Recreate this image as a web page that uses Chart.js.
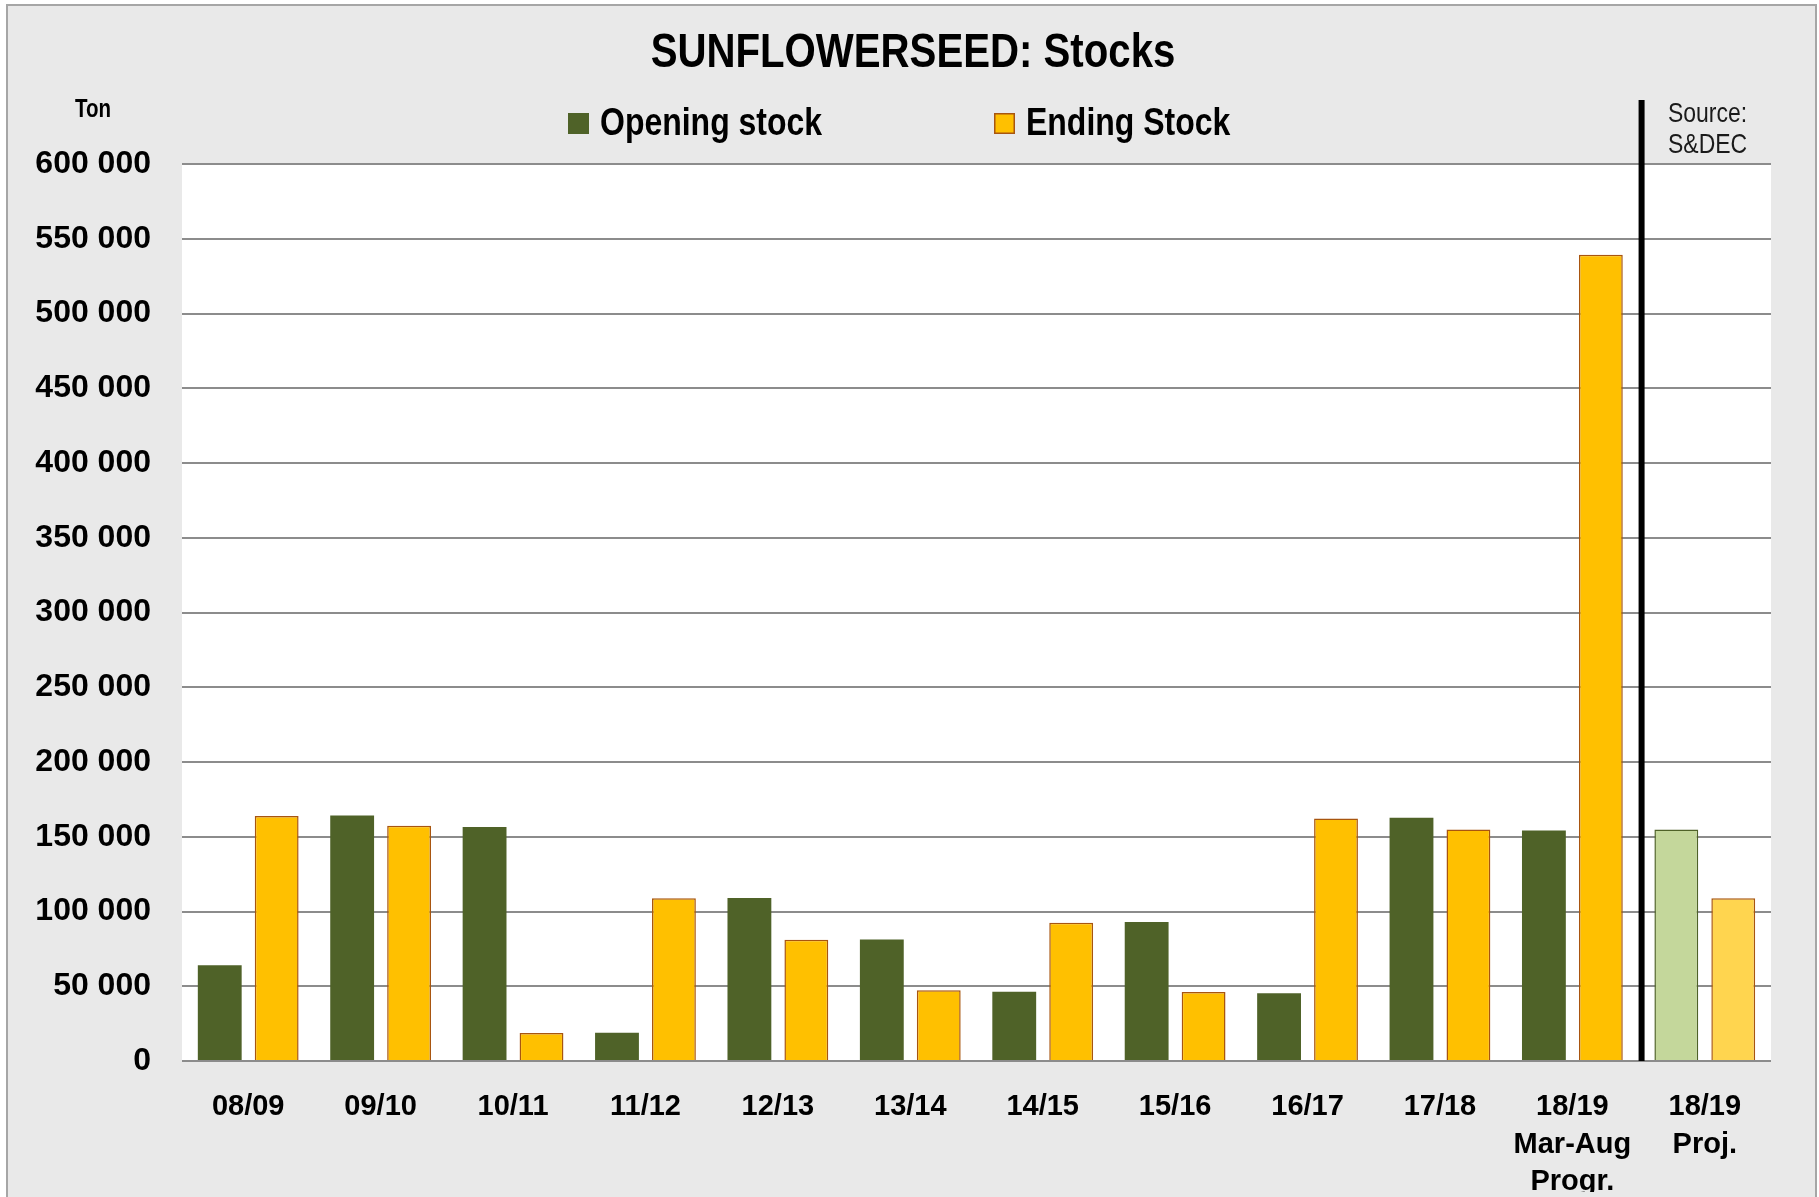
<!DOCTYPE html>
<html>
<head>
<meta charset="utf-8">
<script src="https://cdn.jsdelivr.net/npm/chart.js@4.4.1/dist/chart.umd.min.js"></script>
<style>
html,body{margin:0;padding:0;background:#ffffff;}
#wrap{position:absolute;left:0;top:0;width:1819px;height:1197px;}
canvas{display:block;}
</style>
</head>
<body>
<div id="wrap"><canvas id="c" width="1819" height="1197"></canvas></div>
<script>
// ---- Data ----
const chartTitle = 'SUNFLOWERSEED: Stocks';
const unitLabel = 'Ton';
const sourceLines = ['Source:', 'S&DEC'];
const seriesNames = ['Opening stock', 'Ending Stock'];
const categories = [
  ['08/09'], ['09/10'], ['10/11'], ['11/12'], ['12/13'], ['13/14'],
  ['14/15'], ['15/16'], ['16/17'], ['17/18'],
  ['18/19', 'Mar-Aug', 'Progr.'], ['18/19', 'Proj.']
];
const openingStock = [64000, 164200, 156500, 18900, 109000, 81300, 46400, 92900, 45300, 162700, 154200, 154900];
const endingStock  = [163800, 157300, 18700, 108900, 81100, 47300, 92400, 46200, 162200, 154900, 539300, 108900];
const yTickValues = [0, 50000, 100000, 150000, 200000, 250000, 300000, 350000, 400000, 450000, 500000, 550000, 600000];

// ---- Styles ----
const SANS = "'Liberation Sans', Arial, sans-serif";
const NARROW_SCALE = 0.82;
const GREEN = '#4F6228', GREEN_LIGHT = '#C4D79B';
const GOLD = '#FFC000', GOLD_LIGHT = '#FFD54F', GOLD_BORDER = '#A8550F';
const lastIdx = categories.length - 1;

function fmt(v) { return String(v).replace(/\B(?=(\d{3})+(?!\d))/g, ' '); }

function narrowText(ctx, text, x, y, align) {
  ctx.save();
  ctx.translate(x, y);
  ctx.scale(NARROW_SCALE, 1);
  ctx.textAlign = align;
  ctx.fillText(text, 0, 0);
  ctx.restore();
}

const decorPlugin = {
  id: 'decor',
  beforeDraw(chart) {
    const {ctx, chartArea: a} = chart;
    ctx.save();
    ctx.fillStyle = '#ffffff';
    ctx.fillRect(0, 0, chart.width, chart.height);
    ctx.fillStyle = '#E9E9E9';
    ctx.fillRect(7, 5, 1809, 1200);
    ctx.strokeStyle = '#A6A6A6';
    ctx.lineWidth = 2;
    ctx.strokeRect(7, 5, 1809, 1200);
    ctx.fillStyle = '#ffffff';
    ctx.fillRect(a.left, a.top, a.right - a.left, a.bottom - a.top);
    ctx.restore();
  },
  afterDatasetsDraw(chart) {
    const {ctx, chartArea: a} = chart;
    const xs = chart.scales.x;
    ctx.save();
    // separator line between progress and projection
    const sx = (xs.getPixelForValue(lastIdx - 1) + xs.getPixelForValue(lastIdx)) / 2 + 3;
    ctx.strokeStyle = '#000000';
    ctx.lineWidth = 6;
    ctx.beginPath();
    ctx.moveTo(sx, 100);
    ctx.lineTo(sx, a.bottom);
    ctx.stroke();

    ctx.fillStyle = '#000000';
    ctx.textBaseline = 'middle';

    // title
    ctx.font = "bold 49px " + SANS;
    narrowText(ctx, chartTitle, 913, 53, 'center');

    // legend
    ctx.font = "bold 39px " + SANS;
    const legendItems = [
      {x: 568, fill: GREEN, stroke: GREEN, text: seriesNames[0]},
      {x: 994, fill: GOLD, stroke: GOLD_BORDER, text: seriesNames[1]}
    ];
    legendItems.forEach(it => {
      ctx.fillStyle = it.fill;
      ctx.fillRect(it.x, 113, 21, 21);
      ctx.strokeStyle = it.stroke;
      ctx.lineWidth = 1.5;
      ctx.strokeRect(it.x + 0.75, 113.75, 19.5, 19.5);
      ctx.fillStyle = '#000000';
      narrowText(ctx, it.text, it.x + 32, 124, 'left');
    });

    // unit label
    ctx.font = "bold 25px " + SANS;
    narrowText(ctx, unitLabel, 93, 110, 'center');

    // source
    ctx.font = "28px " + SANS;
    ctx.fillStyle = '#1a1a1a';
    narrowText(ctx, sourceLines[0], 1668, 114, 'left');
    narrowText(ctx, sourceLines[1], 1668, 145, 'left');
    ctx.restore();
  }
};

new Chart(document.getElementById('c'), {
  type: 'bar',
  data: {
    labels: categories,
    datasets: [
      {
        label: seriesNames[0],
        data: openingStock,
        backgroundColor: c => c.dataIndex === lastIdx ? GREEN_LIGHT : GREEN,
        borderColor: GREEN,
        borderWidth: c => c.dataIndex === lastIdx ? 1.5 : 0,
        categoryPercentage: 0.86,
        barPercentage: 0.77
      },
      {
        label: seriesNames[1],
        data: endingStock,
        backgroundColor: c => c.dataIndex === lastIdx ? GOLD_LIGHT : GOLD,
        borderColor: GOLD_BORDER,
        borderWidth: 1.5,
        categoryPercentage: 0.86,
        barPercentage: 0.77
      }
    ]
  },
  options: {
    responsive: false,
    animation: false,
    devicePixelRatio: 1,
    layout: { padding: { left: 8, right: 48, top: 164, bottom: 5 } },
    plugins: {
      legend: { display: false },
      title: { display: false },
      tooltip: { enabled: false }
    },
    scales: {
      x: {
        grid: { display: false, drawTicks: false },
        border: { display: false },
        ticks: {
          color: '#000000',
          font: { family: SANS, size: 29, weight: 'bold', lineHeight: 1.3 },
          padding: 27,
          maxRotation: 0,
          autoSkip: false
        },
        afterFit(axis) { axis.height = 131; }
      },
      y: {
        min: 0,
        max: 600000,
        afterBuildTicks(axis) { axis.ticks = yTickValues.map(v => ({value: v})); },
        grid: { color: '#8C8C8C', lineWidth: 2, drawTicks: false },
        border: { display: false },
        ticks: {
          color: '#000000',
          font: { family: SANS, size: 32, weight: 'bold' },
          padding: 31,
          callback: v => fmt(v)
        },
        afterFit(axis) { axis.width = 174; }
      }
    }
  },
  plugins: [decorPlugin]
});
</script>
</body>
</html>
